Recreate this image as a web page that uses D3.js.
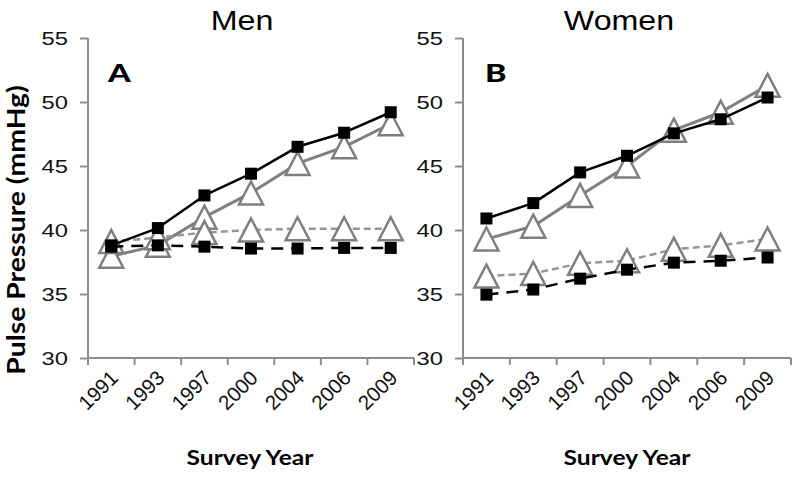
<!DOCTYPE html>
<html>
<head>
<meta charset="utf-8">
<script src="https://cdn.jsdelivr.net/npm/d3@7/dist/d3.min.js"></script>
<style>
  html, body { margin: 0; padding: 0; background: #fff; }
  svg { display: block; }
</style>
</head>
<body>
<svg id="chart" width="800" height="477"></svg>
<script>
const years = ["1991", "1993", "1997", "2000", "2004", "2006", "2009"];
const yTicks = [30, 35, 40, 45, 50, 55];

// Men (panel A)
const menBlackSolid = [38.8, 40.15, 42.7, 44.4, 46.5, 47.6, 49.2];
const menGraySolid  = [37.95, 38.8, 41.0, 42.9, 45.2, 46.5, 48.3];
const menGrayDashed = [39.1, 39.4, 39.8, 40.0, 40.1, 40.1, 40.1];
const menBlackDashed= [38.7, 38.8, 38.7, 38.55, 38.55, 38.6, 38.6];

// Women (panel B)
const womenBlackSolid = [40.9, 42.1, 44.5, 45.8, 47.55, 48.65, 50.35];
const womenGraySolid  = [39.3, 40.3, 42.7, 45.0, 47.8, 49.2, 51.3];
const womenGrayDashed = [36.4, 36.6, 37.4, 37.6, 38.5, 38.8, 39.3];
const womenBlackDashed= [34.95, 35.35, 36.2, 36.9, 37.45, 37.6, 37.85];

const svg = d3.select("#chart");
const GRAY = "#7f7f7f";
const GRAYDASH = "#969696";
const AXIS = "#8c8c8c";
const TICKFONT = "Liberation Sans, Arial, sans-serif";
const BOLDFONT = "Lato, 'Open Sans', sans-serif";
const SX = 1.17; // horizontal stretch of upright text in the reference

function stretchedText(parent, x, y, anchor, size, weight, family, txt, sx) {
  return parent.append("g").attr("transform", `translate(${x},${y})`)
    .append("text").attr("transform", `scale(${sx},1)`)
    .attr("text-anchor", anchor).attr("font-family", family)
    .attr("font-weight", weight).attr("font-size", size).attr("fill", "#000").text(txt);
}

function drawPanel(opts) {
  const g = svg.append("g");
  const x = d3.scaleBand().domain(years).range([opts.x0, opts.x1]);
  const y = d3.scaleLinear().domain([30, 55]).range([358, 38]);

  // y axis
  const yAxis = g.append("g").attr("transform", `translate(${opts.x0},0)`)
    .call(d3.axisLeft(y).tickValues(yTicks).tickSize(8).tickPadding(20).tickFormat(d3.format("d")));
  yAxis.select(".domain").attr("stroke", AXIS).attr("stroke-width", 2).attr("d", `M0,${y(55)}V${y(30)}`);
  yAxis.selectAll(".tick line").attr("stroke", AXIS).attr("stroke-width", 2);
  yAxis.selectAll(".tick text").attr("font-family", TICKFONT).attr("font-size", 19).attr("fill", "#111")
    .attr("x", -20 / 1.25).attr("transform", "scale(1.25,1)");

  // x axis
  const xAxisG = g.append("g").attr("transform", `translate(0,${y(30)})`);
  xAxisG.append("line").attr("x1", opts.x0).attr("x2", opts.x1).attr("stroke", AXIS).attr("stroke-width", 2);
  const bounds = years.map(d => x(d)).concat([opts.x1]);
  xAxisG.selectAll("line.tk").data(bounds).join("line").attr("class", "tk")
    .attr("x1", d => d).attr("x2", d => d).attr("y1", 0).attr("y2", 7)
    .attr("stroke", AXIS).attr("stroke-width", 2);
  xAxisG.selectAll("text").data(years).join("text")
    .attr("transform", d => `translate(${x(d) + x.bandwidth() / 2 + 3},${16}) rotate(-45)`)
    .attr("text-anchor", "end").attr("dy", "0.35em")
    .attr("font-family", TICKFONT).attr("font-size", 20.5).attr("fill", "#111")
    .text(d => d);

  const cx = (d, i) => x(years[i]) + x.bandwidth() / 2;
  const line = d3.line().x((d, i) => cx(d, i)).y(d => y(d));

  function series(vals, color, width, dash, marker) {
    const sg = g.append("g");
    sg.append("path").datum(vals).attr("d", line).attr("fill", "none")
      .attr("stroke", color).attr("stroke-width", width)
      .attr("stroke-dasharray", dash).attr("stroke-linejoin", "round");
    if (marker === "tri") {
      sg.selectAll("path.m").data(vals).join("path").attr("class", "m")
        .attr("d", (d, i) => {
          const px = cx(d, i), py = y(d), h = 11.5, w = 12;
          return `M${px},${py - h}L${px + w},${py + h}L${px - w},${py + h}Z`;
        })
        .attr("fill", "#fff").attr("stroke", GRAY).attr("stroke-width", 2.5);
    } else {
      sg.selectAll("rect.m").data(vals).join("rect").attr("class", "m")
        .attr("x", (d, i) => cx(d, i) - 6).attr("y", d => y(d) - 6)
        .attr("width", 12).attr("height", 12).attr("fill", "#000");
    }
  }

  series(opts.graySolid, GRAY, 3, null, "tri");
  series(opts.grayDashed, GRAYDASH, 2.5, "7,4", "tri");
  series(opts.blackSolid, "#000", 2.5, null, "sq");
  series(opts.blackDashed, "#000", 2.5, "12,8", "sq");

  // title
  stretchedText(g, opts.titleX, 30, "middle", 28, "normal", TICKFONT, opts.title, 1.15);
  // panel letter
  stretchedText(g, opts.letterX, 82, "start", 24, "900", BOLDFONT, opts.letter, 1.35);
  // x label
  stretchedText(g, opts.xlabX, 465, "middle", 21, "bold", BOLDFONT, "Survey Year", SX);
}

drawPanel({
  x0: 88, x1: 414, title: "Men", titleX: 242, letter: "A", letterX: 108, xlabX: 250,
  blackSolid: menBlackSolid, graySolid: menGraySolid, grayDashed: menGrayDashed, blackDashed: menBlackDashed
});
drawPanel({
  x0: 463, x1: 791, title: "Women", titleX: 619, letter: "B", letterX: 485, xlabX: 627,
  blackSolid: womenBlackSolid, graySolid: womenGraySolid, grayDashed: womenGrayDashed, blackDashed: womenBlackDashed
});

svg.append("g").attr("transform", "translate(25,230) rotate(-90)")
  .append("text").attr("transform", "scale(1.09,0.95)")
  .attr("text-anchor", "middle")
  .attr("font-family", BOLDFONT).attr("font-weight", "bold").attr("font-size", 26)
  .attr("fill", "#000").text("Pulse Pressure (mmHg)");
</script>
</body>
</html>
